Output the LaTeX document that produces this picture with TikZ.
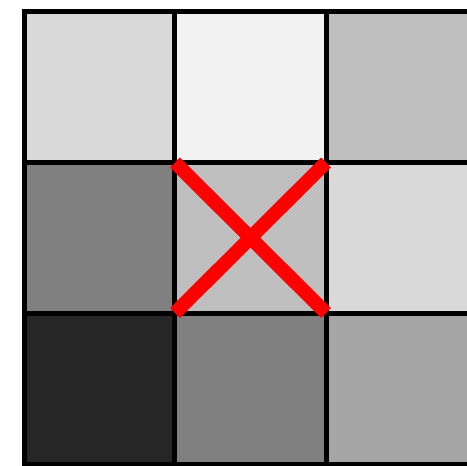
\documentclass[tikz,border=0pt]{standalone}
\begin{document}
\begin{tikzpicture}[x=1pt,y=-1pt,
  gridline/.style={line width=5pt,black},
  cross/.style={line width=14pt,red,line cap=butt}]
\useasboundingbox (0,0) rectangle (467,466);
\clip (0,0) rectangle (467,466);
\definecolor{gA}{gray}{0.851}
\definecolor{gB}{gray}{0.949}
\definecolor{gC}{gray}{0.749}
\definecolor{gD}{gray}{0.502}
\definecolor{gE}{gray}{0.149}
\definecolor{gF}{gray}{0.651}
% cells
\fill[gA] (24,11.5) rectangle (174.5,162);
\fill[gB] (174.5,11.5) rectangle (326,162);
\fill[gC] (326,11.5) rectangle (477,162);
\fill[gD] (24,162) rectangle (174.5,313);
\fill[gC] (174.5,162) rectangle (326,313);
\fill[gA] (326,162) rectangle (477,313);
\fill[gE] (24,313) rectangle (174.5,464);
\fill[gD] (174.5,313) rectangle (326,464);
\fill[gF] (326,313) rectangle (477,464);
% grid
\draw[gridline] (24,11.5) rectangle (477,464);
\draw[gridline] (174.5,11.5) -- (174.5,464);
\draw[gridline] (326,11.5) -- (326,464);
\draw[gridline] (24,162) -- (477,162);
\draw[gridline] (24,313) -- (477,313);
% cross
\coordinate (tl) at (175,162.5);
\coordinate (br) at (326,313);
\coordinate (tr) at (326,162.5);
\coordinate (bl) at (175,313);
\draw[cross] (tl) -- (br);
\draw[cross] (tr) -- (bl);
\end{tikzpicture}
\end{document}
